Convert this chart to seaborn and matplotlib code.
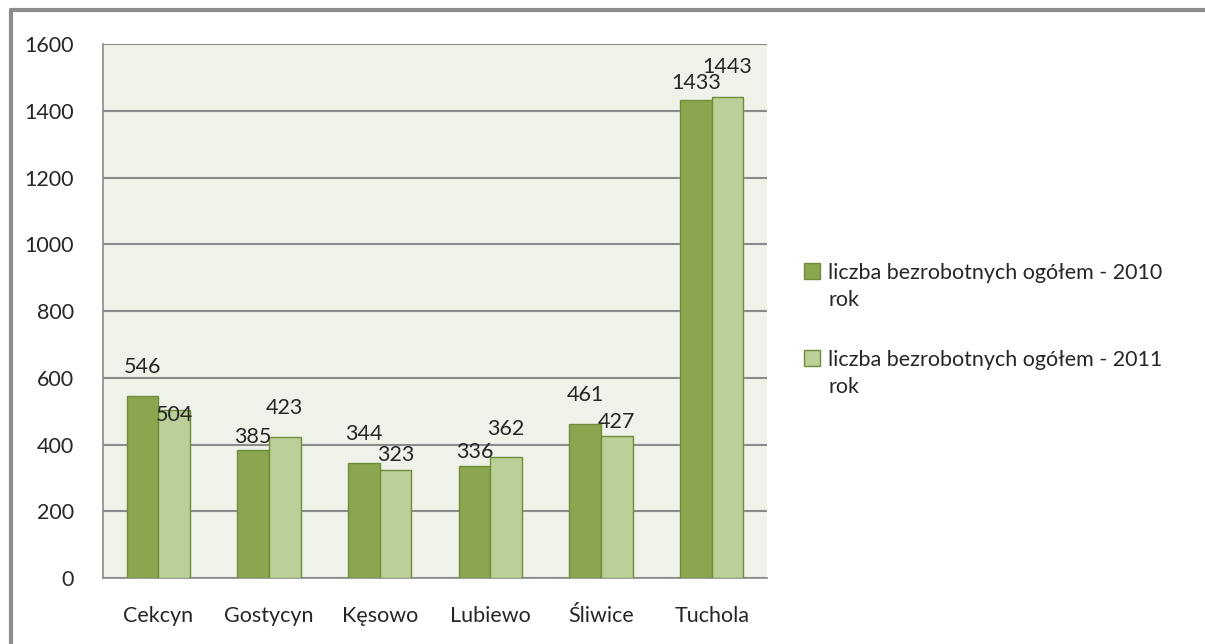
import numpy as np
import pandas as pd
import seaborn as sns
import matplotlib.pyplot as plt
from matplotlib.lines import Line2D

# data
gminy = ["Cekcyn", "Gostycyn", "Kęsowo", "Lubiewo", "Śliwice", "Tuchola"]
bezrobotni_2010 = [546, 385, 344, 336, 461, 1433]
bezrobotni_2011 = [504, 423, 323, 362, 427, 1443]
serie = ["liczba bezrobotnych ogółem - 2010\nrok", "liczba bezrobotnych ogółem - 2011\nrok"]

# vertical shift of the value labels (points above bar top), as in the original
przes_2010 = [21, 9, 21, 10, 21, 12]
przes_2011 = [-4, 21, 11, 20, 10, 21]

df = pd.DataFrame({
    "gmina": gminy * 2,
    "seria": [serie[0]] * len(gminy) + [serie[1]] * len(gminy),
    "liczba": bezrobotni_2010 + bezrobotni_2011,
})

sns.set_style("white")
plt.rcParams["font.family"] = ["Lato", "DejaVu Sans"]

W, H = 1205, 644
fig = plt.figure(figsize=(W / 100, H / 100), dpi=100)
ax = fig.add_axes([0.0855, 0.1025, 0.551, 0.829])
ax.set_facecolor("#eff2e9")

kolory = ["#8aa64e", "#bbd098"]
sns.barplot(data=df, x="gmina", y="liczba", hue="seria", palette=kolory,
            saturation=1, width=0.57, edgecolor="#6f8c3a", linewidth=1,
            ax=ax, zorder=3)

ax.set_ylim(0, 1600)
ax.set_yticks(np.arange(0, 1601, 200))
ax.set_xlim(-0.5, len(gminy) - 0.5)
ax.yaxis.grid(True, color="#8a8a8a", linewidth=1.5, zorder=0)
ax.set_axisbelow(True)
ax.set_xlabel("")
ax.set_ylabel("")

for s in ["top", "right"]:
    ax.spines[s].set_visible(False)
for s in ["left", "bottom"]:
    ax.spines[s].set_color("#8a8a8a")
    ax.spines[s].set_linewidth(1.2)

# tick marks on category boundaries
ax.set_xticks(np.arange(len(gminy)))
ax.set_xticklabels(gminy)
ax.set_xticks(np.arange(-0.5, len(gminy)), minor=True)
ax.tick_params(axis="x", which="major", length=0, labelsize=15.5, pad=20)
ax.tick_params(axis="x", which="minor", length=9, color="#8a8a8a", width=1.2)
ax.tick_params(axis="y", length=8, color="#8a8a8a", width=1.2, labelsize=15.5, pad=13)

# value labels
for cont, vals, offs in zip(ax.containers, [bezrobotni_2010, bezrobotni_2011], [przes_2010, przes_2011]):
    for bar, v, o in zip(cont.patches, vals, offs):
        ax.annotate(str(v), (bar.get_x() + bar.get_width() / 2, bar.get_height()),
                    xytext=(0, o), textcoords="offset points",
                    ha="center", va="center", fontsize=15.5, zorder=5)

# legend on the right, drawn by hand so the marker sits on the first text line
ax.get_legend().remove()
for i, (etykieta, k) in enumerate(zip(serie, kolory)):
    y1 = 271 + i * 87
    fig.add_artist(Line2D([812 / W], [1 - y1 / H], marker="s", markersize=12,
                          markerfacecolor=k, markeredgecolor="#6f8c3a",
                          transform=fig.transFigure))
    fig.text(828 / W, 1 - (y1 + 15.5) / H, etykieta, va="center", ha="left",
             fontsize=15.5, linespacing=1.45)

# outer frame of the original chart
fig.add_artist(Line2D([0.0091, 0.0091], [0, 0.984], color="#8c8c8c", linewidth=3,
                      transform=fig.transFigure))
fig.add_artist(Line2D([0.0091, 1], [0.984, 0.984], color="#8c8c8c", linewidth=3,
                      transform=fig.transFigure))

fig.savefig("out.png", dpi=100)
